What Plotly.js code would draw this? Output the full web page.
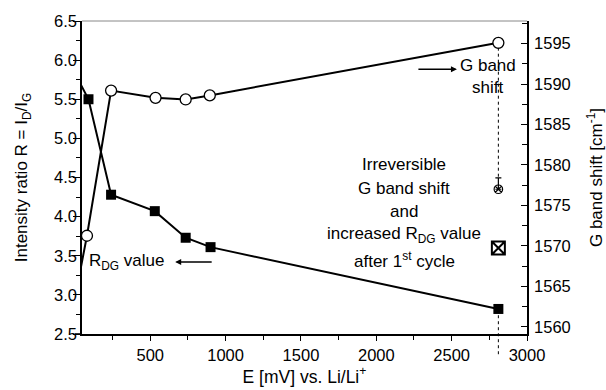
<!DOCTYPE html>
<html>
<head>
<meta charset="utf-8">
<script src="https://cdn.plot.ly/plotly-3.0.1.min.js"></script>
<style>
  html, body { margin: 0; padding: 0; background: #fff; }
  #chart { width: 606px; height: 390px; }
</style>
</head>
<body>
<div id="chart"></div>
<script>
// Potential E [mV] vs. Li/Li+ of each measurement
const potentialR = [0, 90, 240, 530, 735, 900, 2810];
// Intensity ratio R = I_D / I_G (left axis)
const ratioR = [5.83, 5.5, 4.28, 4.07, 3.73, 3.61, 2.82];

const potentialG = [0, 80, 240, 535, 735, 895, 2810];
// G band position in cm^-1 (right axis)
const gBand = [1563.5, 1571.25, 1589.2, 1588.3, 1588.1, 1588.6, 1595.1];

// Values after the first cycle
const afterCycleX = [2810];
const afterCycleG = [1577.0];
const afterCycleGErr = [1.4];
const afterCycleR = [3.6];

const xTicks = [500, 1000, 1500, 2000, 2500, 3000];

const FONT = 'Liberation Sans, Arial, sans-serif';

const traces = [
  {
    x: potentialR, y: ratioR, type: 'scatter', mode: 'lines+markers',
    line: {color: '#000', width: 2},
    marker: {symbol: 'square', size: 10, color: '#000'},
    yaxis: 'y', showlegend: false
  },
  {
    x: potentialG, y: gBand, type: 'scatter', mode: 'lines+markers',
    line: {color: '#000', width: 2},
    marker: {symbol: 'circle', size: 11, color: '#fff', line: {color: '#000', width: 1.3}},
    yaxis: 'y2', showlegend: false
  },
  {
    x: afterCycleX, y: afterCycleG, type: 'scatter', mode: 'markers',
    marker: {symbol: 'circle-x-open', size: 8.5, color: '#000', line: {width: 1.2}},
    error_y: {type: 'data', array: afterCycleGErr, arrayminus: [0], color: '#000', thickness: 1.2, width: 3},
    yaxis: 'y2', showlegend: false
  },
  {
    x: afterCycleX, y: afterCycleR, type: 'scatter', mode: 'markers',
    marker: {symbol: 'square-x-open', size: 13, color: '#000', line: {width: 2}},
    yaxis: 'y', showlegend: false
  }
];

const yR = [2.5, 6.5];
const lastR = ratioR[ratioR.length - 1];
const lastX = potentialG[potentialG.length - 1];

const layout = {
  width: 606, height: 390,
  margin: {l: 82, r: 79, t: 21, b: 56},
  paper_bgcolor: '#fff', plot_bgcolor: '#fff',
  font: {family: FONT, size: 16.5, color: '#000'},
  xaxis: {
    range: [47, 3000],
    tickvals: xTicks, ticktext: xTicks.map(String),
    ticks: 'outside', ticklen: 5, tickwidth: 1.3, tickcolor: '#000',
    minor: {dtick: 250, tick0: 0, ticks: 'outside', ticklen: 4, tickwidth: 1.3, tickcolor: '#000'},
    showline: true, linecolor: '#000', linewidth: 1.6,
    showgrid: false, zeroline: false,
    tickfont: {family: FONT, size: 16.5},
    title: {text: 'E [mV] vs. Li/Li<sup>+</sup>', font: {family: FONT, size: 17.5}, standoff: 8}
  },
  yaxis: {
    range: yR, dtick: 0.5, tick0: 2.5, tickformat: '.1f',
    ticks: 'outside', ticklen: 7, tickwidth: 1.3, tickcolor: '#000',
    ticklabelstandoff: -7,
    minor: {dtick: 0.25, ticks: 'outside', ticklen: 4, tickwidth: 1.3, tickcolor: '#000'},
    showline: true, linecolor: '#000', linewidth: 1.6,
    showgrid: false, zeroline: false,
    tickfont: {family: FONT, size: 16.5},
    title: {text: 'Intensity ratio R = I<sub>D</sub>/I<sub>G</sub>', font: {family: FONT, size: 17}, standoff: 22}
  },
  yaxis2: {
    overlaying: 'y', side: 'right',
    range: [1559.1, 1597.8], dtick: 5, tick0: 1560,
    ticks: 'inside', ticklen: 6, tickwidth: 1.3, tickcolor: '#000',
    ticklabelstandoff: 2,
    minor: {dtick: 2.5, ticks: 'inside', ticklen: 5, tickwidth: 1.3, tickcolor: '#000'},
    showline: true, linecolor: '#000', linewidth: 1.6,
    showgrid: false, zeroline: false,
    tickfont: {family: FONT, size: 16.5},
    title: {text: 'G band shift [cm<sup>-1</sup>]', font: {family: FONT, size: 17}, standoff: 20}
  },
  shapes: [
    // top frame
    {type: 'line', xref: 'paper', yref: 'paper', x0: 0, x1: 1, y0: 1, y1: 1,
     line: {color: '#888', width: 1}},
    // short extension of the bottom axis to the left
    {type: 'line', xref: 'paper', yref: 'paper', x0: -0.016, x1: 0, y0: 0, y1: 0,
     line: {color: '#000', width: 1.6}},
    // dotted guide from the last G band point down to the post-cycle value
    {type: 'line', xref: 'x', yref: 'y2', x0: lastX, x1: lastX,
     y0: gBand[gBand.length - 1] - 0.6, y1: afterCycleG[0] + afterCycleGErr[0],
     line: {color: '#000', width: 1, dash: 'dot'}},
    // dotted guide below the last R point
    {type: 'line', xref: 'x', yref: 'paper', x0: lastX, x1: lastX,
     y0: (lastR - yR[0]) / (yR[1] - yR[0]) - 0.02, y1: -0.073,
     line: {color: '#000', width: 1, dash: 'dot'}}
  ],
  annotations: [
    {xref: 'paper', yref: 'paper', x: 0.912, y: 0.8575, text: 'G band', showarrow: false,
     font: {family: FONT, size: 17}, xanchor: 'center', yanchor: 'middle'},
    {xref: 'paper', yref: 'paper', x: 0.912, y: 0.7875, text: 'shift', showarrow: false,
     font: {family: FONT, size: 17}, xanchor: 'center', yanchor: 'middle'},
    {xref: 'paper', yref: 'paper', x: 0.8425, y: 0.8457, ax: -40, ay: 0, text: '', showarrow: true,
     arrowhead: 2, arrowsize: 0.8, arrowwidth: 1.5, arrowcolor: '#000'},

    {xref: 'paper', yref: 'paper', x: 0.0119, y: 0.2297, text: 'R<sub>DG</sub> value', showarrow: false,
     font: {family: FONT, size: 17}, xanchor: 'left', yanchor: 'middle'},
    {xref: 'paper', yref: 'paper', x: 0.2094, y: 0.2297, ax: 38, ay: 0, text: '', showarrow: true,
     arrowhead: 2, arrowsize: 0.8, arrowwidth: 1.5, arrowcolor: '#000'},

    {xref: 'paper', yref: 'paper', x: 0.7244, y: 0.5424, text: 'Irreversible', showarrow: false,
     font: {family: FONT, size: 17}, xanchor: 'center', yanchor: 'middle'},
    {xref: 'paper', yref: 'paper', x: 0.7244, y: 0.4658, text: 'G band shift', showarrow: false,
     font: {family: FONT, size: 17}, xanchor: 'center', yanchor: 'middle'},
    {xref: 'paper', yref: 'paper', x: 0.7244, y: 0.3924, text: 'and', showarrow: false,
     font: {family: FONT, size: 17}, xanchor: 'center', yanchor: 'middle'},
    {xref: 'paper', yref: 'paper', x: 0.7244, y: 0.3158, text: 'increased R<sub>DG</sub> value', showarrow: false,
     font: {family: FONT, size: 17}, xanchor: 'center', yanchor: 'middle'},
    {xref: 'paper', yref: 'paper', x: 0.7244, y: 0.2361, text: 'after 1<sup>st</sup> cycle', showarrow: false,
     font: {family: FONT, size: 17}, xanchor: 'center', yanchor: 'middle'}
  ]
};

Plotly.newPlot('chart', traces, layout, {displayModeBar: false});
</script>
</body>
</html>
